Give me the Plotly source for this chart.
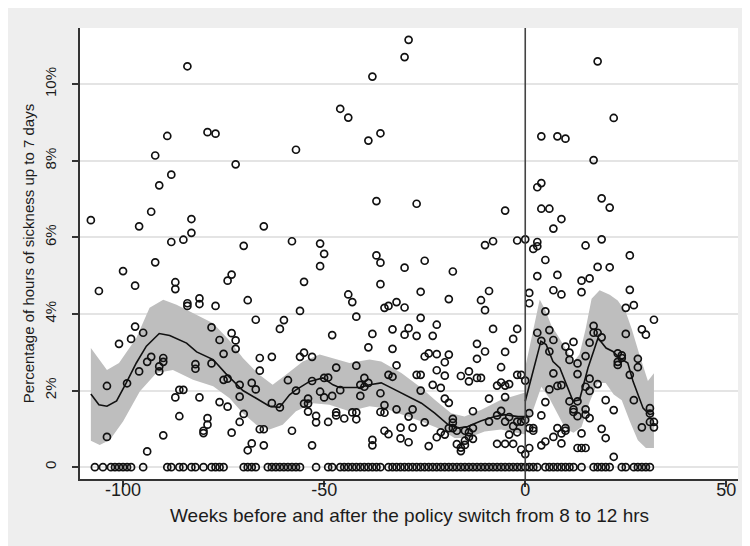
import plotly.graph_objects as go

# ---------------- data (weeks relative to switch, % hours sick) ----------------
zero_weeks = [-107, -105, -103, -102, -101, -100, -99, -98, -95, -89, -88, -86, -85, -83, -82,
              -80, -78, -77, -76, -75, -70, -69, -68, -67, -64, -63, -62, -61, -60, -59, -58,
              -57, -56, -52, -49, -48, -46, -45, -44, -43, -42, -41, -40, -39, -38, -37, -36,
              -34, -33, -32, -31, -30, -29, -28, -27, -26, -25, -24, -23, -22, -21, -20, -19,
              -18, -17, -16, -15, -14, -13, -12, -11, -10, -9, -8, -7, -6, -5, -4, -3, -2, -1,
              0, 1, 2, 3, 5, 6, 7, 8, 9, 10, 11, 12, 14, 17, 18, 19, 20, 21, 24, 25, 27, 28,
              29, 30, 31]

pts_week = [
    -84, -89, -79, -77, -92, -88, -91, -93, -108, -96, -83, -83, -85, -88,
    -38, -46, -44, -39, -57, -72, -65, -70, -58, -51, -50,
    -29, -30, -36, -37, -27, -5, -10, -8, -2, -37,
    18, 22, 4, 8, 10, 17, 4, 3, 19, 21, 4, 6, 9, 7, 0, 3, 3, 2, 15, 19, 26, 5,
    -106, -100, -92, -97, -87, -87, -84, -84, -81, -81, -77, -74, -97, -101, -98, -95,
    -93, -94, -96, -90, -90, -91, -91, -82, -82, -78, -76, -75, -78, -75, -74, -104,
    -99, -86, -85, -87, -81, -76, -74, -86, -79, -79, -80, -80, -104, -90, -94,
    -51, -73, -55, -69, -44, -43, -42, -56, -67, -60, -61, -73, -72, -72, -48, -38,
    -39, -66, -66, -63, -56, -55, -53, -71, -68, -67, -71, -59, -57, -53, -50, -49,
    -51, -50, -48, -47, -46, -42, -41, -41, -40, -40, -39, -70, -71, -73, -66, -65,
    -68, -69, -65, -63, -61, -55, -54, -54, -54, -52, -52, -49, -47, -47, -45, -43,
    -42, -42, -58, -53, -38, -38,
    -36, -30, -25, -18, -36, -35, -34, -32, -30, -26, -19, -11, -10, -9, -26, -33,
    -30, -29, -27, -23, -22, -8, -3, -2, -33, -25, -24, -22, -20, -19, -12, -12,
    -10, -5, -32, -34, -33, -27, -26, -22, -20, -16, -14, -14, -12, -11, -6, -7,
    -6, -4, -5, -5, -2, -36, -26, -23, -21, -20, -19, -9, -35, -36, -35, -32, -28,
    -29, -25, -31, -28, -35, -34, -31, -29, -24, -22, -21, -20, -18, -18, -18, -19,
    -17, -17, -16, -15, -16, -15, -14, -13, -13, -15, -14, -13, -9, -7, -6, -4,
    -5, -3, -2, -7, -5, -3, -4, -2,
    3, 8, 18, 21, 14, 16, 7, 9, 14, 26, 1, 1, 25, 27, 5, 3, 6, 7, 4, 6, 10, 12,
    11, 11, 13, 15, 16, 17, 17, 18, 19, 25, 29, 30, 32, 23, 24, 24, 23, 23, 28,
    28, 7, -1, 0, 13, 16, 26, 18, 6, 8, 9, 15, 16, 13, 11, 5, 20, 27, 22, 31, 12,
    12, 13, 15, 15, 16, 31, 1, 4, 31, 32, 32, 29, -1, 0, 1, 2, 2, 1, -1, 0, 4, 5,
    7, 8, 9, 9, 10, 10, 14, 13, 14, 15, 19, 20, 22,
]
pts_pct = [
    10.47, 8.65, 8.75, 8.71, 8.14, 7.64, 7.36, 6.67, 6.45, 6.29, 6.48, 6.12, 5.94, 5.88,
    10.2, 9.36, 9.13, 8.53, 8.29, 7.91, 6.29, 5.78, 5.90, 5.84, 5.57,
    11.16, 10.71, 8.72, 6.95, 6.88, 6.70, 5.80, 5.90, 5.92, 5.53,
    10.6, 9.12, 8.64, 8.64, 8.58, 8.02, 7.42, 7.31, 7.02, 6.78, 6.75, 6.75, 6.48, 6.23,
    5.95, 5.88, 5.77, 5.70, 5.79, 5.95, 5.53, 5.41,
    4.60, 5.12, 5.35, 4.74, 4.83, 4.65, 4.28, 4.21, 4.41, 4.26, 4.21, 4.87, 3.67, 3.22,
    3.35, 3.51, 2.88, 2.75, 2.50, 2.85, 2.75, 2.63, 2.50, 2.69, 2.57, 3.65, 3.32, 2.96,
    2.71, 2.28, 2.31, 2.12, 2.19, 2.02, 2.02, 1.82, 1.82, 1.70, 1.58, 1.33, 1.28, 1.11,
    0.95, 0.89, 0.79, 0.83, 0.41,
    5.25, 5.03, 4.84, 4.36, 4.51, 4.31, 3.93, 4.08, 3.85, 3.84, 3.61, 3.50, 3.31, 3.09,
    3.45, 3.48, 3.13, 2.85, 2.52, 2.88, 2.88, 2.99, 2.88, 2.15, 2.20, 2.03, 1.84, 2.27,
    2.00, 2.25, 2.33, 2.34, 1.97, 1.82, 1.86, 2.60, 2.01, 2.65, 1.86, 2.15, 2.33, 2.10,
    2.20, 1.39, 1.18, 0.90, 0.99, 0.99, 0.62, 0.44, 0.57, 1.67, 1.56, 1.66, 1.66, 1.79,
    1.45, 1.34, 1.17, 1.18, 1.43, 1.35, 1.27, 1.43, 1.43, 1.25, 0.95, 0.57, 0.71, 0.57,
    5.34, 5.21, 5.39, 5.11, 4.78, 4.16, 4.21, 4.31, 4.17, 4.58, 4.39, 4.36, 4.10, 4.60,
    3.90, 3.60, 3.46, 3.63, 3.43, 3.43, 3.72, 3.61, 3.35, 3.61, 3.09, 2.89, 2.97, 2.95,
    2.74, 2.94, 3.22, 2.83, 3.02, 3.01, 2.66, 2.41, 2.36, 2.41, 2.41, 2.53, 2.39, 2.38,
    2.50, 2.24, 2.33, 2.33, 2.61, 2.13, 2.21, 2.17, 2.13, 1.83, 2.41, 1.93, 2.00, 2.15,
    2.07, 1.79, 1.68, 1.79, 1.62, 1.44, 1.42, 1.51, 1.51, 1.32, 1.17, 1.03, 1.03, 0.95,
    0.86, 0.75, 0.65, 0.55, 0.78, 0.91, 0.85, 1.26, 1.16, 1.02, 1.02, 0.95, 0.60, 0.51,
    0.58, 0.42, 0.69, 0.79, 0.74, 1.02, 0.95, 0.91, 1.46, 1.19, 1.35, 1.47, 1.31, 1.19,
    1.07, 1.19, 0.61, 0.61, 0.61, 0.85, 0.91,
    4.99, 5.02, 5.23, 5.22, 4.87, 4.93, 4.62, 4.51, 4.57, 4.63, 4.55, 4.28, 4.16, 4.23,
    4.07, 3.51, 3.58, 3.32, 3.30, 3.02, 3.15, 3.27, 2.99, 2.80, 2.71, 2.90, 3.25, 3.69,
    3.51, 3.51, 3.39, 3.48, 3.60, 3.46, 3.85, 2.97, 2.92, 2.85, 2.75, 2.67, 2.83, 2.61,
    2.45, 2.41, 2.26, 2.43, 2.31, 2.41, 2.17, 2.03, 2.12, 2.14, 2.10, 1.99, 1.72, 1.72,
    1.70, 1.75, 1.75, 1.49, 1.54, 1.51, 1.44, 1.33, 1.51, 1.37, 1.28, 1.40, 1.41, 1.35,
    1.18, 1.18, 1.04, 1.04, 1.19, 1.23, 1.02, 1.02, 0.95, 0.50, 0.46, 0.34, 0.57, 0.67,
    0.79, 1.02, 0.62, 0.88, 1.02, 0.95, 0.88, 0.50, 0.50, 0.50, 1.00, 0.76, 0.27,
]

# smoothed fit and confidence band, before the switch
pre_fit_week = [-108, -106, -104, -101.6, -99.2, -96.7, -94.2, -91, -88.4, -84.2, -81.7,
                -77.6, -74.5, -70.2, -66.9, -63.6, -61.1, -58.6, -57, -53.6, -50.3, -47.8,
                -46.2, -41.2, -38.7, -35.8, -33.3, -30, -25.8, -22.5, -19.2, -16.7, -14.3,
                -10.9, -7.6, -5.1, -1.8, 0]
pre_fit_pct = [1.91, 1.63, 1.59, 1.73, 2.20, 2.72, 3.16, 3.49, 3.44, 3.24, 3.01, 2.81, 2.45,
               2.00, 1.80, 1.59, 1.56, 1.89, 2.02, 2.24, 2.33, 2.15, 2.08, 2.08, 2.15, 2.20,
               2.07, 1.89, 1.67, 1.41, 1.11, 1.02, 1.06, 1.21, 1.32, 1.37, 1.32, 1.32]
pre_hi_week = [-108, -104, -101, -96.7, -93.4, -90, -86.7, -82.6, -77.6, -73.5, -70.2, -66.1,
               -62.8, -59.5, -55.3, -51.1, -47.8, -43.7, -38.7, -35.8, -30.8, -25.8, -22.5,
               -18.4, -15.1, -10.9, -6, -1.8, 0]
pre_hi_pct = [3.11, 2.54, 2.72, 3.37, 4.16, 4.37, 4.24, 4.03, 3.76, 3.30, 2.85, 2.41, 2.15,
              2.41, 2.76, 2.94, 2.85, 2.72, 2.81, 2.76, 2.46, 2.07, 1.76, 1.41, 1.32, 1.50,
              1.76, 1.89, 1.95]
pre_lo_week = [-108, -105.8, -103.3, -100, -95.8, -91.7, -87.6, -82.6, -77.6, -73.5, -70.2,
               -66.9, -63.6, -60.3, -57, -52.8, -48.7, -43.7, -38.7, -35, -30.8, -25.8,
               -20.9, -17.6, -14.3, -10.1, -6, -1.8, 0]
pre_lo_pct = [0.69, 0.58, 0.71, 1.19, 1.98, 2.46, 2.54, 2.28, 2.11, 1.80, 1.41, 1.11, 0.98,
              1.11, 1.46, 1.67, 1.63, 1.46, 1.59, 1.54, 1.37, 1.19, 0.98, 0.76, 0.76, 0.93,
              0.98, 0.89, 0.85]

# smoothed fit and confidence band, after the switch
post_fit_week = [0, 1.9, 3.9, 5.2, 6.9, 8.6, 10.2, 11.9, 13.5, 15.6, 18.1, 20.1, 21.8, 23.5,
                 25.5, 26.8, 29.3, 30.9, 32]
post_fit_pct = [1.72, 2.50, 3.29, 3.20, 2.76, 2.59, 2.15, 1.72, 1.76, 2.59, 3.37, 3.11, 3.02,
                2.85, 2.72, 2.24, 1.54, 1.37, 1.41]
post_hi_week = [0, 2, 3.6, 5, 6.5, 8, 10, 12, 13.5, 15, 16.5, 18.5, 21, 23, 25, 26.5, 28.5,
                30.5, 32]
post_hi_pct = [2.6, 3.6, 4.38, 4.1, 3.7, 3.45, 3.1, 2.75, 2.95, 3.6, 4.4, 4.62, 4.5, 4.35,
               4.05, 3.6, 2.9, 2.25, 2.45]
post_lo_week = [0, 2, 4, 6, 8, 10, 12, 14, 16, 18, 20, 22, 24, 26, 28, 30, 32]
post_lo_pct = [1.0, 1.5, 2.1, 1.8, 1.4, 1.0, 0.9, 1.05, 1.7, 2.2, 2.2, 1.9, 1.75, 1.2, 0.7,
               0.5, 0.5]

x_ticks = [-100, -50, 0, 50]
x_tick_labels = ["-100", "-50", "0", "50"]
y_ticks = [0, 2, 4, 6, 8, 10]
y_tick_labels = ["0", "2%", "4%", "6%", "8%", "10%"]
x_title = "Weeks before and after the policy switch from 8 to 12 hrs"
y_title = "Percentage of hours of sickness up to 7 days"

# ---------------- figure ----------------
FONT = "Liberation Sans, Arial, sans-serif"
INK = "#1c1c1c"
BAND = "#bebebe"

fig = go.Figure()

for hx, hy, lx, ly in [(pre_hi_week, pre_hi_pct, pre_lo_week, pre_lo_pct),
                       (post_hi_week, post_hi_pct, post_lo_week, post_lo_pct)]:
    fig.add_trace(go.Scatter(
        x=hx + lx[::-1], y=hy + ly[::-1], mode="lines", fill="toself",
        fillcolor=BAND, line=dict(width=0, color=BAND), hoverinfo="skip", showlegend=False))

fig.add_trace(go.Scatter(
    x=pts_week + zero_weeks, y=pts_pct + [0] * len(zero_weeks), mode="markers",
    marker=dict(symbol="circle-open", size=7, color="#111111", line=dict(width=1.7, color="#111111")),
    showlegend=False))

for fx, fy in [(pre_fit_week, pre_fit_pct), (post_fit_week, post_fit_pct)]:
    fig.add_trace(go.Scatter(x=fx, y=fy, mode="lines",
                             line=dict(color="#111111", width=1.6), showlegend=False))

fig.add_shape(type="line", x0=0, x1=0, xref="x", y0=0, y1=1, yref="paper",
              line=dict(color="#444444", width=1.6), layer="above")

fig.add_annotation(text=x_title, xref="paper", yref="paper", x=0.5, y=-0.081,
                   xanchor="center", yanchor="middle", showarrow=False,
                   font=dict(size=19, family=FONT, color=INK))
fig.add_annotation(text=y_title, xref="paper", yref="paper", x=-0.078, y=0.5,
                   xanchor="center", yanchor="middle", textangle=-90, showarrow=False,
                   font=dict(size=15, family=FONT, color=INK))

fig.update_layout(
    width=750, height=546,
    margin=dict(l=72, r=20, t=20, b=75),
    paper_bgcolor="#eeeeee", plot_bgcolor="white",
    font=dict(family=FONT, color=INK, size=18),
    xaxis=dict(range=[-110.7, 52.9], tickvals=x_ticks, ticktext=x_tick_labels,
               showgrid=False, zeroline=False,
               showline=True, linecolor="#333333", linewidth=1.5,
               ticks="outside", ticklen=6, tickwidth=1.5, tickcolor="#333333",
               tickfont=dict(size=18), ticklabelstandoff=-12),
    yaxis=dict(range=[-0.31, 11.47], tickvals=y_ticks, ticktext=y_tick_labels,
               tickangle=-90, showgrid=True, gridcolor="#e4e4e4", gridwidth=1.5,
               zeroline=False, showline=True, linecolor="#333333", linewidth=1.5,
               ticks="outside", ticklen=6, tickwidth=1.5, tickcolor="#333333",
               tickfont=dict(size=15), ticklabelstandoff=10),
)

fig.write_html("out.html")
